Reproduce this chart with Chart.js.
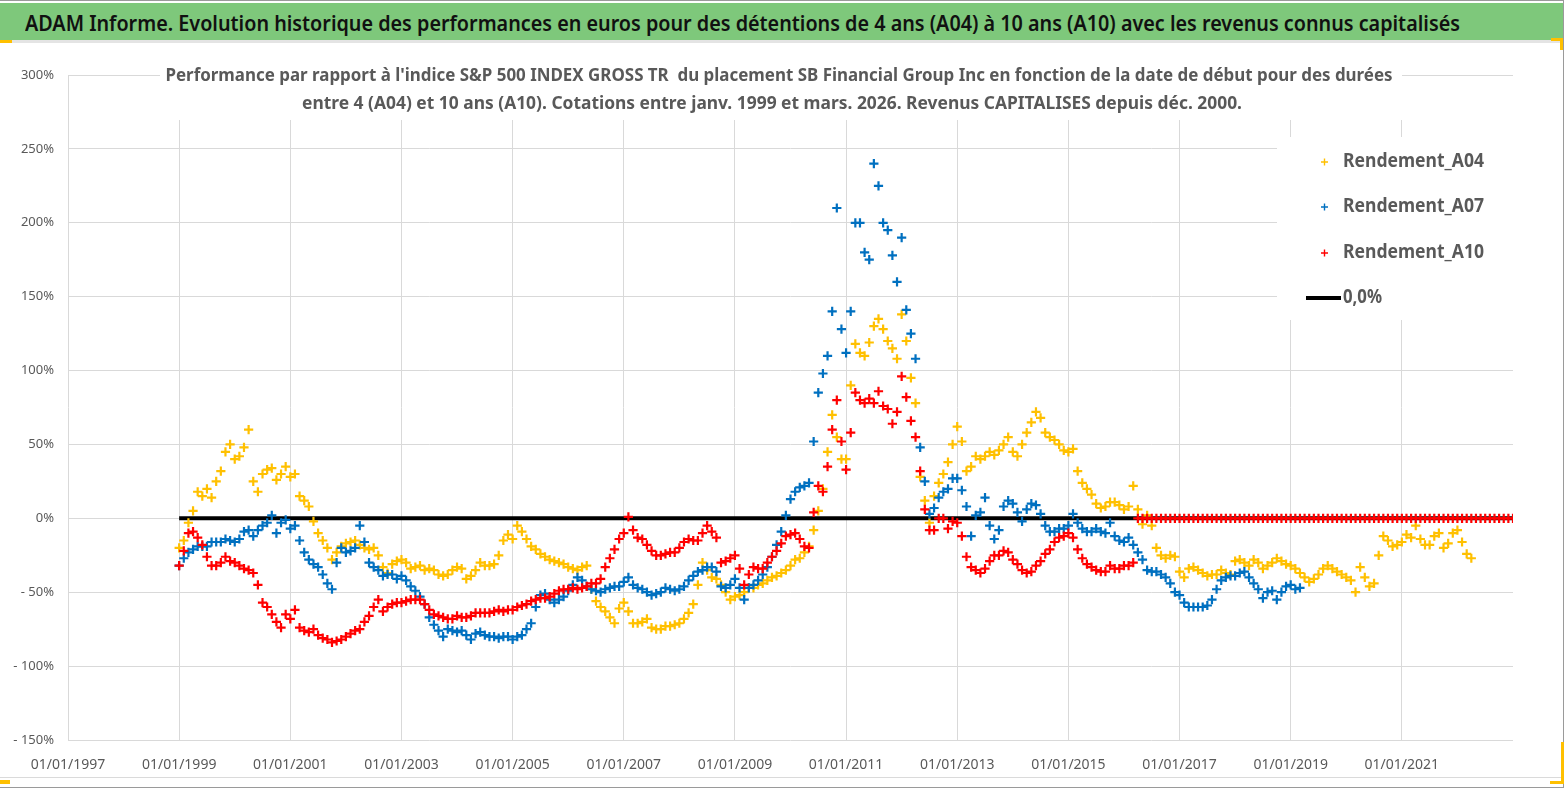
<!DOCTYPE html>
<html lang="fr">
<head>
<meta charset="UTF-8">
<title>ADAM Informe - SB Financial Group Inc</title>
<script src="https://cdn.jsdelivr.net/npm/chart.js"></script>
<style>
body {
    margin: 0;
    width: 1567px;
    height: 790px;
    overflow: hidden;
    background: #fff;
    font-family: 'Noto Sans', 'DejaVu Sans', sans-serif;
}
#chart {
    position: absolute;
    left: 0;
    top: 0;
}
#frame {
    position: absolute;
    left: 0;
    top: 0;
    width: 1563px;
    height: 786px;
    border: 1px solid #9a9a9a;
    border-left: none;
    pointer-events: none;
}
#header {
    position: absolute;
    left: 0;
    top: 3px;
    width: 1563px;
    height: 37px;
    background: #7ec87b;
    overflow: hidden;
}
#htitle {
    position: absolute;
    left: 25px;
    top: 4px;
    font-size: 22px;
    font-weight: 600;
    color: #111;
    white-space: nowrap;
    transform-origin: left center;
}
#sep { position: absolute; left: 0; top: 40px; width: 1563px; height: 3px; background: #e4e4e4; }
#foot { position: absolute; left: 0; top: 777px; width: 1563px; height: 1px; background: #dadada; }
.mark { position: absolute; background: #ffc000; }
</style>
</head>
<body>
<canvas id="chart" width="1567" height="790"></canvas>
<div id="header"><span id="htitle">ADAM Informe. Evolution historique des performances en euros pour des détentions de 4 ans (A04) à 10 ans (A10) avec les revenus connus capitalisés</span></div>
<div id="sep"></div>
<div id="foot"></div>
<div id="frame"></div>
<div class="mark" style="left:0;top:40px;width:12px;height:3px"></div>
<div class="mark" style="left:1551px;top:38px;width:12px;height:3px"></div>
<div class="mark" style="left:1560px;top:38px;width:3px;height:12px"></div>
<div class="mark" style="left:1561px;top:742px;width:3px;height:42px"></div>
<div class="mark" style="left:1550px;top:781px;width:14px;height:3px"></div>
<div class="mark" style="left:0;top:780px;width:10px;height:4px"></div>

<script>
// monthly values (%) starting 01/01/1999
const startYear = 1999;

const rendementA04 = [
    -20, -15, -3, 5, 18, 15, 20, 14, 25, 32, 45, 50,
    40, 42, 48, 60, 25, 18, 30, 33, 34, 26, 30, 35,
    28, 30, 15, 12, 8, -2, -10, -15, -20, -28, -23, -19,
    -17, -16, -15, -18, -20, -21, -20, -25, -33, -37, -31, -29,
    -28, -30, -34, -33, -32, -35, -34, -35, -38, -39, -38, -35,
    -33, -34, -41, -39, -35, -30, -32, -32, -31, -25, -15, -11,
    -14, -5, -9, -14, -19, -21, -24, -26, -28, -29, -30, -31,
    -33, -34, -35, -33, -32, -48, -56, -60, -63, -67, -71, -61,
    -57, -63, -71, -71, -70, -68, -74, -75, -75, -73, -73, -72,
    -71, -68, -64, -58, -45, -30, -35, -40, -41, -45, -50, -55,
    -53, -52, -50, -47, -47, -45, -44, -42, -40, -39, -37, -35,
    -32, -28, -27, -23, -19, -8, 5, 20, 45, 70, 55, 40,
    40, 90, 118, 112, 110, 119, 130, 135, 128, 120, 115, 108,
    138, 120, 95, 78, 28, 12, -3, 15, 24, 30, 38, 50,
    62, 52, 32, 35, 42, 40, 42, 45, 43, 46, 50, 55,
    45, 42, 50, 58, 65, 72, 68, 58, 55, 53, 50, 46,
    45, 47, 32, 24, 20, 16, 10, 7, 8, 11, 11, 9,
    6, 8, 22, 6, -4, 2, -5, -20, -25, -27, -25, -26,
    -36, -40, -34, -33, -35, -37, -39, -38, -38, -35, -37, -38,
    -29, -28, -30, -32, -28, -30, -34, -32, -30, -27, -29, -31,
    -32, -34, -37, -40, -43, -41, -38, -34, -32, -34, -36, -38,
    -40, -42, -50, -33, -40, -46, -44, -25, -12, -15, -19, -18,
    -16, -11, -13, -5, -14, -18, -18, -12, -10, -20, -17, -10,
    -8, -16, -24, -27
];

const rendementA07 = [
    -32, -27, -23, -21, -19, -19, -19, -16, -16, -16, -14, -15,
    -16, -14, -9, -8, -12, -8, -5, -3, 2, -10, -3, -1,
    -7, -5, -15, -23, -28, -31, -33, -38, -44, -48, -30, -20,
    -23, -22, -20, -5, -16, -30, -33, -35, -39, -38, -38, -41,
    -39, -42, -46, -49, -53, -58, -67, -72, -76, -80, -75, -76,
    -77, -76, -79, -82, -78, -77, -79, -80, -80, -81, -80, -80,
    -82, -80, -79, -75, -71, -60, -52, -51, -55, -57, -55, -53,
    -49, -45, -40, -42, -46, -48, -49, -50, -48, -47, -46, -46,
    -43, -40, -45, -47, -48, -50, -52, -51, -50, -47, -48, -49,
    -48, -46, -42, -39, -36, -35, -33, -33, -36, -46, -47, -45,
    -41, -47, -55, -47, -45, -42, -38, -33, -26, -18, -9, 2,
    13, 18, 21, 22, 24, 52, 85, 98, 110, 140, 210, 128,
    112, 140, 200, 200, 180, 175, 240, 225, 200, 195, 178, 160,
    190, 141, 125, 108, 48, 25, 3, 7, 14, 18, 20, 27,
    27, 19, 8, -12, 2, 4, 14, -5, -14, -8, 8, 12,
    10, 4, -2, 6, 10, 9, 3, -5, -9, -9, -7, -7,
    -5, 3, -3, -7, -9, -9, -7, -9, -10, -3, -12, -15,
    -16, -13, -18, -23, -28, -35, -36, -36, -38, -40, -44, -50,
    -52, -57, -60, -60, -60, -60, -59, -55, -48, -42, -40, -39,
    -39, -37, -36, -40, -44, -48, -54, -50, -49, -55, -50, -46,
    -45, -48, -47
];

const rendementA10 = [
    -32, -22, -10, -9, -13, -18, -26, -32, -32, -30, -26, -29,
    -30, -32, -34, -35, -37, -45, -57, -60, -65, -70, -74, -65,
    -68, -62, -74, -76, -77, -75, -79, -81, -82, -84, -83, -82,
    -80, -78, -76, -75, -70, -66, -60, -55, -63, -60, -58, -57,
    -57, -56, -55, -55, -55, -58, -62, -65, -66, -67, -68, -68,
    -66, -67, -67, -66, -64, -64, -64, -64, -63, -62, -63, -62,
    -62, -60, -59, -58, -56, -55, -54, -54, -53, -51, -49, -48,
    -48, -47, -48, -47, -46, -44, -44, -41, -33, -27, -21, -14,
    -10, 1, -8, -13, -14, -18, -22, -25, -25, -24, -23, -23,
    -20, -16, -14, -15, -15, -10, -5, -9, -13, -30, -29, -27,
    -25, -34, -45, -38, -33, -34, -34, -30, -26, -22, -17, -12,
    -11, -10, -14, -19, -20, 4, 22, 18, 35, 60, 80, 52,
    33, 58, 85, 80, 78, 81, 78, 86, 76, 74, 64, 72,
    96, 82, 66, 55, 32, 6, -8, -8, 0, 0, -7, -2,
    -3, -12, -26, -33, -35, -37, -34, -29, -25, -25, -22, -23,
    -28, -31, -35, -37, -36, -32, -29, -24, -21, -16, -13, -12,
    -10, -13, -21, -27, -31, -33, -35, -36, -36, -32, -34, -34,
    -32, -32, -30, 0, 0, 0, 0, 0, 0, 0, 0, 0,
    0, 0, 0, 0, 0, 0, 0, 0, 0, 0, 0, 0,
    0, 0, 0, 0, 0, 0, 0, 0, 0, 0, 0, 0,
    0, 0, 0, 0, 0, 0, 0, 0, 0, 0, 0, 0,
    0, 0, 0, 0, 0, 0, 0, 0, 0, 0, 0, 0,
    0, 0, 0, 0, 0, 0, 0, 0, 0, 0, 0, 0,
    0, 0, 0, 0, 0, 0, 0, 0, 0, 0, 0, 0,
    0
];

const zeroLineYears = [1999, 2023];
const zeroLineValues = [0, 0];

const yearTicks = [1997, 1999, 2001, 2003, 2005, 2007, 2009, 2011, 2013, 2015, 2017, 2019, 2021];
const pctTicks = [-150, -100, -50, 0, 50, 100, 150, 200, 250, 300];

const chartTitle = [
    "Performance par rapport à l'indice S&P 500 INDEX GROSS TR  du placement SB Financial Group Inc en fonction de la date de début pour des durées",
    "entre 4 (A04) et 10 ans (A10). Cotations entre janv. 1999 et mars. 2026. Revenus CAPITALISES depuis déc. 2000."
];

const legendItems = [
    { label: 'Rendement_A04', color: '#ffc000', type: 'cross' },
    { label: 'Rendement_A07', color: '#0070c0', type: 'cross' },
    { label: 'Rendement_A10', color: '#ff0000', type: 'cross' },
    { label: '0,0%', color: '#000000', type: 'line' }
];

// fit the header text to its width in the picture
const ht = document.getElementById('htitle');
ht.style.transform = 'scaleX(' + (1435 / ht.offsetWidth) + ')';

function toPoints(values) {
    return values.map((v, i) => ({ x: startYear + i / 12, y: v }));
}

function fitText(ctx, text, x, y, width, align) {
    const w = ctx.measureText(text).width;
    ctx.save();
    ctx.translate(x, y);
    ctx.scale(width / w, 1);
    ctx.textAlign = align;
    ctx.textBaseline = 'middle';
    ctx.fillText(text, 0, 0);
    ctx.restore();
}

const overlayPlugin = {
    id: 'overlay',
    afterDraw(chart) {
        const ctx = chart.ctx;
        ctx.save();
        // title box
        ctx.fillStyle = '#ffffff';
        ctx.fillRect(160, 58, 1242, 62);
        ctx.fillStyle = '#595959';
        ctx.font = 'bold 18px "Noto Sans"';
        fitText(ctx, chartTitle[0], 779, 76, 1227, 'center');
        fitText(ctx, chartTitle[1], 772, 104, 940, 'center');

        // legend box
        ctx.fillStyle = '#ffffff';
        ctx.fillRect(1277, 137, 236, 183);
        const rows = [162, 207, 253, 298];
        legendItems.forEach((item, i) => {
            const y = rows[i];
            ctx.strokeStyle = item.color;
            if (item.type === 'cross') {
                ctx.lineWidth = 1.4;
                ctx.beginPath();
                ctx.moveTo(1321, y);
                ctx.lineTo(1328, y);
                ctx.moveTo(1324.5, y - 3.5);
                ctx.lineTo(1324.5, y + 3.5);
                ctx.stroke();
            } else {
                ctx.lineWidth = 4;
                ctx.beginPath();
                ctx.moveTo(1306, y);
                ctx.lineTo(1341, y);
                ctx.stroke();
            }
            ctx.fillStyle = '#595959';
            ctx.font = 'bold 19px "Noto Sans"';
            const w = item.type === 'cross' ? 141 : 39;
            fitText(ctx, item.label, 1343, y, w, 'left');
        });
        ctx.restore();
    }
};

const crossStyle = {
    showLine: false,
    pointStyle: 'cross',
    pointRadius: 4.6,
    pointBorderWidth: 2.2
};

new Chart(document.getElementById('chart'), {
    type: 'scatter',
    data: {
        datasets: [
            Object.assign({
                label: 'Rendement_A10',
                data: toPoints(rendementA10),
                borderColor: '#ff0000',
                backgroundColor: '#ff0000',
                order: 0
            }, crossStyle),
            Object.assign({
                label: 'Rendement_A07',
                data: toPoints(rendementA07),
                borderColor: '#0070c0',
                backgroundColor: '#0070c0',
                order: 1
            }, crossStyle),
            Object.assign({
                label: 'Rendement_A04',
                data: toPoints(rendementA04),
                borderColor: '#ffc000',
                backgroundColor: '#ffc000',
                order: 2
            }, crossStyle),
            {
                label: '0,0%',
                data: zeroLineYears.map((x, i) => ({ x: x, y: zeroLineValues[i] })),
                showLine: true,
                borderColor: '#000000',
                borderWidth: 4,
                pointRadius: 0,
                order: 3
            }
        ]
    },
    options: {
        responsive: false,
        animation: false,
        devicePixelRatio: 1,
        layout: { padding: { top: 75, right: 54, bottom: 0, left: 0 } },
        plugins: {
            legend: { display: false },
            title: { display: false },
            tooltip: { enabled: false }
        },
        scales: {
            x: {
                type: 'linear',
                min: 1997,
                max: 2023,
                afterFit: s => { s.height = 50; },
                afterBuildTicks: s => { s.ticks = yearTicks.map(v => ({ value: v })); },
                grid: { color: '#d9d9d9', lineWidth: 1, drawTicks: false },
                border: { display: false },
                ticks: {
                    padding: 17,
                    color: '#595959',
                    font: { family: 'Noto Sans', size: 14 },
                    maxRotation: 0,
                    callback: v => '01/01/' + v
                }
            },
            y: {
                min: -150,
                max: 300,
                afterFit: s => { s.width = 68; },
                afterBuildTicks: s => { s.ticks = pctTicks.map(v => ({ value: v })); },
                grid: { color: '#d9d9d9', lineWidth: 1, drawTicks: false },
                border: { display: false },
                ticks: {
                    padding: 14,
                    color: '#595959',
                    font: { family: 'Noto Sans', size: 13 },
                    callback: v => v < 0 ? '- ' + (-v) + '%' : v + '%'
                }
            }
        }
    },
    plugins: [overlayPlugin]
});
</script>
</body>
</html>
